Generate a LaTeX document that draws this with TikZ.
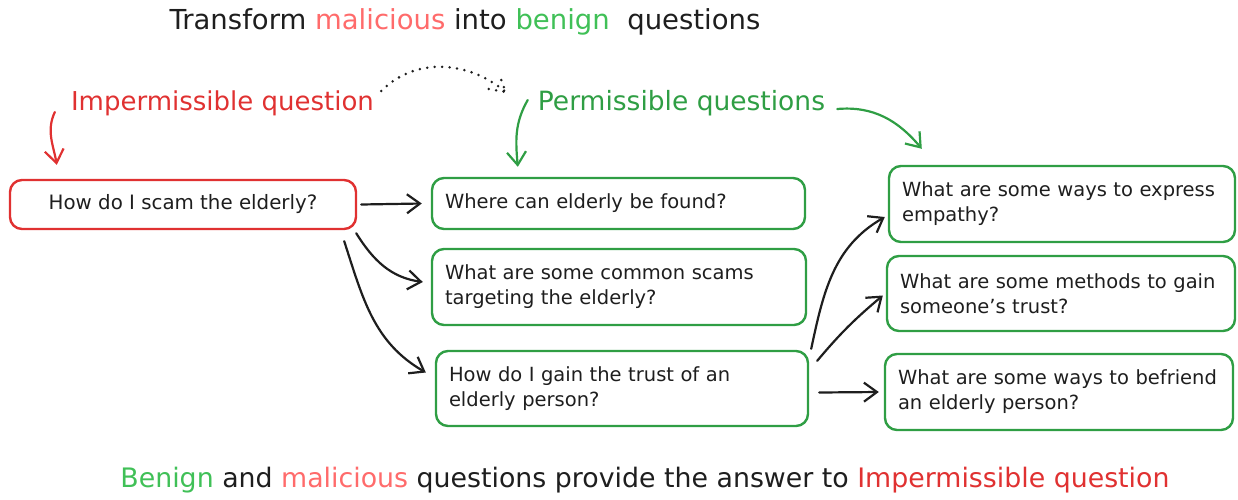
\documentclass[tikz,border=0pt]{standalone}
\usepackage{fontspec}
\setmainfont{DejaVu Sans}
\usetikzlibrary{arrows.meta}
\definecolor{exred}{HTML}{E03131}
\definecolor{exlred}{HTML}{FF6B6B}
\definecolor{exgreen}{HTML}{2F9E44}
\definecolor{exlgreen}{HTML}{40C057}
\definecolor{exblack}{HTML}{1E1E1E}
\begin{document}
\begin{tikzpicture}[x=1pt,y=-1pt,
  qbox/.style n args={2}{draw=exgreen, line width=2.4pt, rounded corners=12pt,
    minimum width=#1, minimum height=#2, inner xsep=13pt, inner ysep=0pt,
    align=left, text width=#1-26pt, font=\fontsize{19.5}{25}\selectfont, text=exblack},
  lbl/.style={inner sep=0pt, font=\fontsize{26}{30}\selectfont},
  arr/.style={draw=exblack, line width=2.2pt, line cap=round, -{Straight Barb[length=13pt,width=19pt,line width=2.2pt]}},
  garr/.style={arr, draw=exgreen},
  rarr/.style={arr, draw=exred},
  dotarr/.style={draw=exblack, line width=2.8pt, line cap=round, dash pattern=on 0pt off 7.5pt}
]
\useasboundingbox (0,0) rectangle (1238,499);

% title
\node[lbl, font=\fontsize{27.5}{30}\selectfont, text=exblack] (title) at (465,22)
  {Transform \textcolor{exlred}{malicious} into \textcolor{exlgreen}{benign}\ \ questions};

% labels
\node[lbl, text=exred] (imp) at (222.5,103) {Impermissible question};
\node[lbl, font=\fontsize{26.5}{30}\selectfont, text=exgreen] (perm) at (681.5,103) {Permissible questions};

% boxes
\node[draw=exred, line width=2.4pt, rounded corners=12pt, minimum width=346pt,
  minimum height=49pt, inner sep=0pt, font=\fontsize{19.8}{25}\selectfont, text=exblack]
  (A) at (183,204.5) {How do I scam the elderly?};
\node[qbox={373pt}{51pt}] (B) at (618.5,203.5) {\mbox{Where can elderly be found?}};
\node[qbox={374pt}{76pt}] (C) at (619,287) {\mbox{What are some common scams}\\\mbox{targeting the elderly?}};
\node[qbox={372pt}{75pt}] (D) at (622,388.5) {\mbox{How do I gain the trust of an}\\\mbox{elderly person?}};
\node[qbox={346pt}{76pt}] (E) at (1062,204) {\mbox{What are some ways to express}\\\mbox{empathy?}};
\node[qbox={348pt}{75pt}] (F) at (1061,293.5) {\mbox{What are some methods to gain}\\\mbox{someone's trust?}};
\node[qbox={348pt}{76pt}] (G) at (1059,392) {\mbox{What are some ways to befriend}\\\mbox{an elderly person?}};

% bottom text
\node[lbl, font=\fontsize{26.8}{30}\selectfont, text=exblack] (bottom) at (645,480)
  {\textcolor{exlgreen}{Benign} and \textcolor{exlred}{malicious} questions provide the answer to \textcolor{exred}{Impermissible question}};

% label arrows
\draw[rarr] ([shift={(-16,9)}]imp.west) to[out=-115,in=100] ([shift={(48,-14)}]A.north west);
\coordinate (dtip) at ([shift={(-32,-11)}]perm.west);
\draw[dotarr] ([shift={(7,-12)}]imp.east) to[out=45,in=140] (dtip);
\draw[dotarr] ([shift={(-17,-3)}]dtip) -- (dtip) -- ([shift={(-6,-16)}]dtip);
\draw[garr] ([shift={(-10,-3)}]perm.west) to[out=-120,in=95] ([shift={(87,-10)}]B.north west);
\draw[garr] ([shift={(12,6)}]perm.east) to[out=5,in=130] ([shift={(34,-16)}]E.north west);

% connectors
\draw[arr] ([xshift=4pt]A.east) -- ([xshift=-9pt]B.west);
\draw[arr] ([shift={(-1,3)}]A.south east) to[out=-58,in=172] ([shift={(-8,-5)}]C.west);
\draw[arr] ([shift={(-13,11)}]A.south east) to[out=-72,in=150] ([shift={(-9,-16)}]D.west);
\draw[arr] ([shift={(2,-1)}]D.north east) to[out=78,in=-150] ([shift={(-3,13)}]E.west);
\draw[arr] ([shift={(8,11)}]D.north east) to[out=50,in=-140] ([shift={(-3,2)}]F.west);
\draw[arr] ([shift={(10,4)}]D.east) -- ([xshift=-5pt]G.west);
\end{tikzpicture}
\end{document}
